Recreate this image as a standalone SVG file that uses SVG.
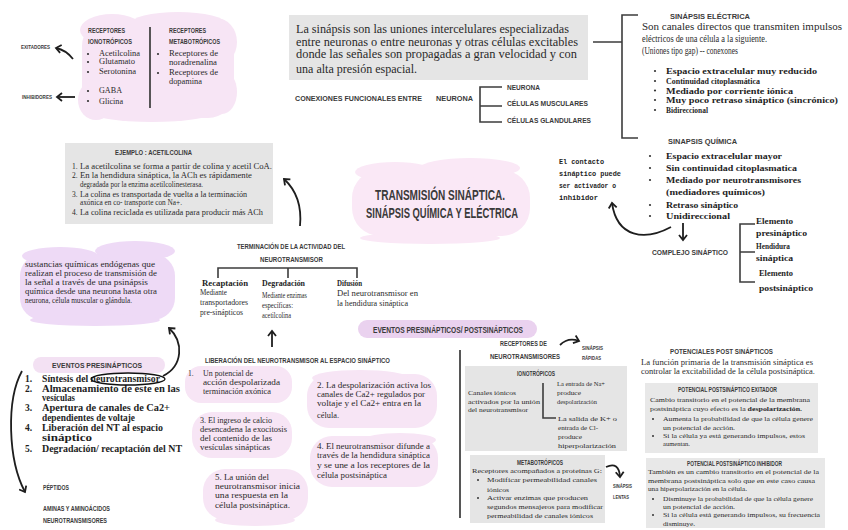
<svg xmlns="http://www.w3.org/2000/svg" width="848" height="530" viewBox="0 0 848 530">
<style>
.hd{font-family:"Liberation Sans",Arial,sans-serif;font-weight:bold;fill:#3a3a3a}
.sf{font-family:"Liberation Serif","Times New Roman",serif;fill:#2a2a2a}
.sb{font-family:"Liberation Serif","Times New Roman",serif;font-weight:bold;fill:#1e1e1e}
.mn{font-family:"Liberation Mono","Courier New",monospace;font-weight:bold;fill:#1e1e1e}
.ln{stroke:#3c3c3c;stroke-width:1.6;fill:none}
.ar{stroke:#1e1e1e;stroke-width:1.8;fill:none;marker-end:url(#ah)}
.pk{fill:#f7e5f5}
.lv{fill:#eedaf6}
.gy{fill:#e5e5e5}
.bl{fill:#333}
</style>
<defs>
<marker id="ah" markerUnits="userSpaceOnUse" markerWidth="10" markerHeight="10" refX="6" refY="5" orient="auto">
<path d="M1,1 L6,5 L1,9" stroke="#1e1e1e" stroke-width="1.8" fill="none"/>
</marker>
</defs>
<rect width="848" height="530" fill="#fff"/>

<!-- receptores -->
<g id="receptores">
<g class="pk">
<rect x="82" y="20" width="152" height="98" rx="26"/>
<ellipse cx="112" cy="30" rx="32" ry="16"/>
<ellipse cx="178" cy="24" rx="48" ry="12"/>
<ellipse cx="216" cy="42" rx="21" ry="24"/>
<ellipse cx="96" cy="100" rx="18" ry="20"/>
<ellipse cx="152" cy="112" rx="62" ry="10"/>
<ellipse cx="222" cy="92" rx="15" ry="22"/>
</g>
<text class="hd" font-size="7" x="88" y="33" textLength="37" lengthAdjust="spacingAndGlyphs">RECEPTORES</text>
<text class="hd" font-size="7" x="88" y="44" textLength="44" lengthAdjust="spacingAndGlyphs">IONOTRÓPICOS</text>
<g class="bl"><circle cx="88" cy="54" r="1.1"/><circle cx="88" cy="62" r="1.1"/><circle cx="88" cy="72" r="1.1"/><circle cx="88" cy="91" r="1.1"/><circle cx="88" cy="101" r="1.1"/><circle cx="158" cy="54" r="1.1"/><circle cx="158" cy="73" r="1.1"/></g>
<text class="sf" font-size="8" x="99" y="56" textLength="41" lengthAdjust="spacingAndGlyphs">Acetilcolina</text>
<text class="sf" font-size="8" x="99" y="64" textLength="36" lengthAdjust="spacingAndGlyphs">Glutamato</text>
<text class="sf" font-size="8" x="99" y="74" textLength="37" lengthAdjust="spacingAndGlyphs">Serotonina</text>
<text class="sf" font-size="8" x="99" y="93" textLength="23" lengthAdjust="spacingAndGlyphs">GABA</text>
<text class="sf" font-size="8" x="99" y="104" textLength="24" lengthAdjust="spacingAndGlyphs">Glicina</text>
<line x1="150" y1="27" x2="150" y2="108" stroke="#444" stroke-width="1.8"/>
<text class="hd" font-size="7" x="169" y="33" textLength="37" lengthAdjust="spacingAndGlyphs">RECEPTORES</text>
<text class="hd" font-size="7" x="169" y="44" textLength="51" lengthAdjust="spacingAndGlyphs">METABOTRÓPICOS</text>
<text class="sf" font-size="8" x="169" y="56" textLength="49" lengthAdjust="spacingAndGlyphs">Receptores de</text>
<text class="sf" font-size="8" x="169" y="65" textLength="48" lengthAdjust="spacingAndGlyphs">noradrenalina</text>
<text class="sf" font-size="8" x="169" y="75" textLength="49" lengthAdjust="spacingAndGlyphs">Receptores de</text>
<text class="sf" font-size="8" x="169" y="84" textLength="33" lengthAdjust="spacingAndGlyphs">dopamina</text>
</g>
<g id="exitadores"><text class="hd" font-size="6" x="21" y="49" textLength="29" lengthAdjust="spacingAndGlyphs">EXITADORES</text></g>
<g id="inhibidores"><text class="hd" font-size="6" x="22" y="99" textLength="30" lengthAdjust="spacingAndGlyphs">INHIBIDORES</text></g>

<!-- definicion -->
<g id="definicion">
<rect class="gy" x="289" y="15" width="299" height="65"/>
<text class="sf" font-size="11.5" x="296" y="33" textLength="273" lengthAdjust="spacingAndGlyphs">La sinápsis son las uniones intercelulares especializadas</text>
<text class="sf" font-size="11.5" x="296" y="46" textLength="282" lengthAdjust="spacingAndGlyphs">entre neuronas o entre neuronas y otras  células excitables</text>
<text class="sf" font-size="11.5" x="296" y="58" textLength="281" lengthAdjust="spacingAndGlyphs">donde las señales son propagadas a gran velocidad y con</text>
<text class="sf" font-size="11.5" x="296" y="73" textLength="121" lengthAdjust="spacingAndGlyphs">una alta presión espacial.</text>
</g>

<g id="conexiones">
<text class="hd" font-size="8" x="295" y="101" textLength="127" lengthAdjust="spacingAndGlyphs">CONEXIONES FUNCIONALES ENTRE</text>
<text class="hd" font-size="8" x="436" y="101" textLength="37" lengthAdjust="spacingAndGlyphs">NEURONA</text>
</g>
<g id="neurona"><text class="hd" font-size="8" x="507" y="90" textLength="33" lengthAdjust="spacingAndGlyphs">NEURONA</text></g>
<g id="celulas-musculares"><text class="hd" font-size="8" x="507" y="106" textLength="81" lengthAdjust="spacingAndGlyphs">CÉLULAS MUSCULARES</text></g>
<g id="celulas-glandulares"><text class="hd" font-size="8" x="507" y="123" textLength="84" lengthAdjust="spacingAndGlyphs">CÉLULAS GLANDULARES</text></g>

<!-- sinapsis electrica -->
<g id="sinapsis-electrica">
<text class="hd" font-size="8" x="670" y="19" textLength="80" lengthAdjust="spacingAndGlyphs">SINÁPSIS ELÉCTRICA</text>
<text class="sf" font-size="11" x="642" y="30" textLength="200" lengthAdjust="spacingAndGlyphs">Son canales directos que transmiten impulsos</text>
<text class="sf" font-size="11" x="642" y="42" textLength="125" lengthAdjust="spacingAndGlyphs">eléctricos de una célula a la siguiente.</text>
<text class="sf" font-size="11" x="642" y="54" textLength="96" lengthAdjust="spacingAndGlyphs">(Uniones tipo gap) -- conexones</text>
<g class="bl"><circle cx="655" cy="71" r="1.1"/><circle cx="655" cy="81" r="1.1"/><circle cx="655" cy="90.5" r="1.1"/><circle cx="655" cy="100" r="1.1"/><circle cx="655" cy="110" r="1.1"/></g>
<text class="sb" font-size="8.5" x="666" y="74" textLength="151" lengthAdjust="spacingAndGlyphs">Espacio extracelular muy reducido</text>
<text class="sb" font-size="8.5" x="666" y="84" textLength="94" lengthAdjust="spacingAndGlyphs">Continuidad citoplasmática</text>
<text class="sb" font-size="8.5" x="666" y="93.5" textLength="127" lengthAdjust="spacingAndGlyphs">Mediado por corriente iónica</text>
<text class="sb" font-size="8.5" x="666" y="103" textLength="172" lengthAdjust="spacingAndGlyphs">Muy poco retraso sináptico (sincrónico)</text>
<text class="sb" font-size="8.5" x="666" y="113" textLength="42" lengthAdjust="spacingAndGlyphs">Bidireccional</text>
</g>

<g id="sinapsis-quimica">
<text class="hd" font-size="8" x="668" y="144" textLength="69" lengthAdjust="spacingAndGlyphs">SINAPSIS QUÍMICA</text>
<g class="bl"><circle cx="650" cy="156" r="1.1"/><circle cx="650" cy="168" r="1.1"/><circle cx="650" cy="180" r="1.1"/><circle cx="650" cy="205" r="1.1"/><circle cx="650" cy="216" r="1.1"/></g>
<text class="sb" font-size="9" x="666" y="159" textLength="116" lengthAdjust="spacingAndGlyphs">Espacio extracelular mayor</text>
<text class="sb" font-size="9" x="666" y="171" textLength="131" lengthAdjust="spacingAndGlyphs">Sin continuidad citoplasmatica</text>
<text class="sb" font-size="9" x="666" y="183" textLength="135" lengthAdjust="spacingAndGlyphs">Mediado por neurotransmisores</text>
<text class="sb" font-size="9" x="666" y="195" textLength="99" lengthAdjust="spacingAndGlyphs">(mediadores químicos)</text>
<text class="sb" font-size="9" x="666" y="208" textLength="72" lengthAdjust="spacingAndGlyphs">Retraso sináptico</text>
<text class="sb" font-size="9" x="666" y="219" textLength="64" lengthAdjust="spacingAndGlyphs">Unidireccional</text>
</g>

<g id="contacto">
<text class="mn" font-size="7" x="559" y="164" textLength="45" lengthAdjust="spacingAndGlyphs">El contacto</text>
<text class="mn" font-size="7" x="559" y="176" textLength="62" lengthAdjust="spacingAndGlyphs">sináptico puede</text>
<text class="mn" font-size="7" x="559" y="187.5" textLength="57" lengthAdjust="spacingAndGlyphs">ser activador o</text>
<text class="mn" font-size="7" x="559" y="200" textLength="39" lengthAdjust="spacingAndGlyphs">inhibidor</text>
</g>

<g id="complejo">
<text class="hd" font-size="8" x="652" y="255" textLength="76" lengthAdjust="spacingAndGlyphs">COMPLEJO SINÁPTICO</text>
</g>
<g id="elemento-pre">
<text class="sb" font-size="8.5" x="756" y="224" textLength="37" lengthAdjust="spacingAndGlyphs">Elemento</text>
<text class="sb" font-size="8.5" x="756" y="236" textLength="51" lengthAdjust="spacingAndGlyphs">presináptico</text>
</g>
<g id="hendidura">
<text class="sb" font-size="8.5" x="756" y="249" textLength="34" lengthAdjust="spacingAndGlyphs">Hendidura</text>
<text class="sb" font-size="8.5" x="756" y="261" textLength="37" lengthAdjust="spacingAndGlyphs">sináptica</text>
</g>
<g id="elemento-post">
<text class="sb" font-size="8.5" x="759" y="276" textLength="34" lengthAdjust="spacingAndGlyphs">Elemento</text>
<text class="sb" font-size="8.5" x="759" y="291" textLength="54" lengthAdjust="spacingAndGlyphs">postsináptico</text>
</g>

<!-- titulo -->
<g id="titulo">
<g fill="#fae8f6">
<rect x="352" y="170" width="178" height="66" rx="28"/>
<ellipse cx="395" cy="172" rx="40" ry="10"/>
<ellipse cx="470" cy="168" rx="50" ry="10"/>
<ellipse cx="430" cy="238" rx="70" ry="6"/>
</g>
<text class="hd" font-size="15" x="375" y="200" textLength="130" lengthAdjust="spacingAndGlyphs" fill="#404040">TRANSMISIÓN SINÁPTICA.</text>
<text class="hd" font-size="15" x="366" y="218" textLength="152" lengthAdjust="spacingAndGlyphs" fill="#404040">SINÁPSIS QUÍMICA Y ELÉCTRICA</text>
</g>

<!-- ejemplo -->
<g id="ejemplo">
<rect class="gy" x="65" y="143" width="208" height="81"/>
<text class="hd" font-size="8" x="115" y="155" textLength="77" lengthAdjust="spacingAndGlyphs">EJEMPLO : ACETILCOLINA</text>
<g class="sf" font-size="7.5">
<text x="72" y="169">1.</text><text x="80" y="169" textLength="192" lengthAdjust="spacingAndGlyphs">La acetilcolina se forma a partir de colina y acetil CoA.</text>
<text x="72" y="178">2.</text><text x="80" y="178" textLength="172" lengthAdjust="spacingAndGlyphs">En la hendidura sináptica, la ACh es rápidamente</text>
<text x="80" y="187" textLength="123" lengthAdjust="spacingAndGlyphs">degradada por la enzima acetilcolinesterasa.</text>
<text x="72" y="197">3.</text><text x="80" y="197" textLength="167" lengthAdjust="spacingAndGlyphs">La colina es transportada de vuelta a la terminación</text>
<text x="80" y="205" textLength="102" lengthAdjust="spacingAndGlyphs">axónica en co- transporte con Na+.</text>
<text x="72" y="215">4.</text><text x="80" y="215" textLength="183" lengthAdjust="spacingAndGlyphs">La colina reciclada es utilizada para producir más ACh</text>
</g>
</g>

<!-- terminacion -->
<g id="terminacion">
<text class="hd" font-size="7" x="237" y="249" textLength="108" lengthAdjust="spacingAndGlyphs">TERMINACIÓN DE LA ACTIVIDAD DEL</text>
<text class="hd" font-size="7" x="260" y="262" textLength="63" lengthAdjust="spacingAndGlyphs">NEUROTRANSMISOR</text>
</g>
<g id="recaptacion">
<text class="sb" font-size="8" x="202" y="286" textLength="46" lengthAdjust="spacingAndGlyphs">Recaptación</text>
<text class="sf" font-size="7.5" x="200" y="295" textLength="27" lengthAdjust="spacingAndGlyphs">Mediante</text>
<text class="sf" font-size="7.5" x="200" y="305" textLength="48" lengthAdjust="spacingAndGlyphs">transportadores</text>
<text class="sf" font-size="7.5" x="200" y="315" textLength="43" lengthAdjust="spacingAndGlyphs">pre-sinápticos</text>
</g>
<g id="degradacion">
<text class="sb" font-size="8" x="262" y="286" textLength="43" lengthAdjust="spacingAndGlyphs">Degradación</text>
<text class="sf" font-size="7.5" x="262" y="298" textLength="45" lengthAdjust="spacingAndGlyphs">Mediante enzimas</text>
<text class="sf" font-size="7.5" x="262" y="308" textLength="31" lengthAdjust="spacingAndGlyphs">específicas:</text>
<text class="sf" font-size="7.5" x="262" y="318" textLength="29" lengthAdjust="spacingAndGlyphs">acetilcolina</text>
</g>
<g id="difusion">
<text class="sb" font-size="8" x="337" y="286" textLength="25" lengthAdjust="spacingAndGlyphs">Difusión</text>
<text class="sf" font-size="7.5" x="337" y="296" textLength="81" lengthAdjust="spacingAndGlyphs">Del neurotransmisor en</text>
<text class="sf" font-size="7.5" x="337" y="306" textLength="71" lengthAdjust="spacingAndGlyphs">la hendidura sináptica</text>
</g>

<!-- sustancias -->
<g id="sustancias">
<g class="lv">
<rect x="20" y="254" width="155" height="66" rx="22"/>
<ellipse cx="60" cy="256" rx="38" ry="9"/>
<ellipse cx="135" cy="251" rx="40" ry="10"/>
<ellipse cx="95" cy="320" rx="65" ry="6"/>
</g>
<g class="sf" font-size="7.5">
<text x="25" y="267" textLength="130" lengthAdjust="spacingAndGlyphs">sustancias químicas endógenas que</text>
<text x="25" y="276" textLength="132" lengthAdjust="spacingAndGlyphs">realizan el proceso de transmisión de</text>
<text x="25" y="285" textLength="123" lengthAdjust="spacingAndGlyphs">la señal a través de una psinápsis</text>
<text x="25" y="294" textLength="132" lengthAdjust="spacingAndGlyphs">química desde una neurona hasta otra</text>
<text x="25" y="303" textLength="107" lengthAdjust="spacingAndGlyphs">neurona, célula muscular o glándula.</text>
</g>
</g>

<!-- eventos presinapticos -->
<g id="eventos-pre">
<rect x="33" y="357" width="132" height="16" rx="8" fill="#f3e1f3"/>
<text class="hd" font-size="8" x="52" y="368" textLength="90" lengthAdjust="spacingAndGlyphs">EVENTOS PRESINÁPTICOS</text>
<g class="sb" font-size="9.5">
<text x="25" y="382">1.</text><text x="42" y="382" textLength="118" lengthAdjust="spacingAndGlyphs">Síntesis del neurotransmisor</text>
<text x="25" y="392">2.</text><text x="42" y="392" textLength="138" lengthAdjust="spacingAndGlyphs">Almacenamiento de este en las</text>
<text x="42" y="401" textLength="33" lengthAdjust="spacingAndGlyphs">vesículas</text>
<text x="25" y="411">3.</text><text x="42" y="411" textLength="128" lengthAdjust="spacingAndGlyphs">Apertura de canales de Ca2+</text>
<text x="42" y="421" textLength="93" lengthAdjust="spacingAndGlyphs">dependientes de voltaje</text>
<text x="25" y="431">4.</text><text x="42" y="431" textLength="121" lengthAdjust="spacingAndGlyphs">Liberación del NT al espacio</text>
<text x="42" y="441" textLength="50" lengthAdjust="spacingAndGlyphs">sináptico</text>
<text x="25" y="452">5.</text><text x="42" y="452" textLength="140" lengthAdjust="spacingAndGlyphs">Degradación/ recaptación del NT</text>
</g>
<ellipse cx="128" cy="379" rx="37" ry="6" fill="none" stroke="#111" stroke-width="1.3"/>
</g>
<g id="peptidos"><text class="hd" font-size="6.5" x="43" y="490" textLength="26" lengthAdjust="spacingAndGlyphs">PÉPTIDOS</text></g>
<g id="aminas">
<text class="hd" font-size="6.5" x="43" y="511" textLength="67" lengthAdjust="spacingAndGlyphs">AMINAS Y AMINOÁCIDOS</text>
<text class="hd" font-size="6.5" x="43" y="523" textLength="64" lengthAdjust="spacingAndGlyphs">NEUROTRANSMISORES</text>
</g>

<!-- liberacion -->
<g id="liberacion">
<text class="hd" font-size="7.5" x="205" y="363" textLength="185" lengthAdjust="spacingAndGlyphs">LIBERACIÓN DEL NEUROTRANSMISOR AL ESPACIO SINÁPTICO</text>
</g>
<g id="paso1">
<rect class="pk" x="185" y="366" width="107" height="37" rx="16"/>
<g class="sf" font-size="7.5">
<text x="188" y="376">1.</text>
<text x="203" y="376" textLength="50" lengthAdjust="spacingAndGlyphs">Un potencial de</text>
<text x="203" y="385" textLength="77" lengthAdjust="spacingAndGlyphs">acción despolarizada</text>
<text x="203" y="394" textLength="68" lengthAdjust="spacingAndGlyphs">terminación axónica</text>
</g>
</g>
<g id="paso2">
<g class="pk"><rect x="307" y="374" width="130" height="54" rx="22"/><ellipse cx="360" cy="378" rx="48" ry="8"/></g>
<g class="sf" font-size="7.5">
<text x="317" y="388" textLength="114" lengthAdjust="spacingAndGlyphs">2. La despolarización activa los</text>
<text x="317" y="397" textLength="108" lengthAdjust="spacingAndGlyphs">canales de Ca2+ regulados por</text>
<text x="317" y="406" textLength="104" lengthAdjust="spacingAndGlyphs">voltaje y el Ca2+ entra en la</text>
<text x="317" y="418" textLength="22" lengthAdjust="spacingAndGlyphs">célula.</text>
</g>
</g>
<g id="paso3">
<rect class="pk" x="192" y="412" width="100" height="46" rx="20"/>
<g class="sf" font-size="7.5">
<text x="200" y="423" textLength="72" lengthAdjust="spacingAndGlyphs">3. El ingreso de calcio</text>
<text x="200" y="432" textLength="87" lengthAdjust="spacingAndGlyphs">desencadena la exocitosis</text>
<text x="200" y="441" textLength="72" lengthAdjust="spacingAndGlyphs">del contenido de las</text>
<text x="200" y="450" textLength="70" lengthAdjust="spacingAndGlyphs">vesículas sinápticas</text>
</g>
</g>
<g id="paso4">
<g class="pk"><rect x="310" y="436" width="128" height="51" rx="22"/><ellipse cx="400" cy="440" rx="36" ry="7"/></g>
<g class="sf" font-size="7.5">
<text x="317" y="449" textLength="113" lengthAdjust="spacingAndGlyphs">4. El neurotransmisor difunde a</text>
<text x="317" y="458" textLength="113" lengthAdjust="spacingAndGlyphs">través de la hendidura sináptica</text>
<text x="317" y="468" textLength="113" lengthAdjust="spacingAndGlyphs">y se une a los receptores de la</text>
<text x="317" y="478" textLength="70" lengthAdjust="spacingAndGlyphs">célula postsináptica</text>
</g>
</g>
<g id="paso5">
<g class="pk"><rect x="203" y="469" width="105" height="51" rx="22"/><ellipse cx="255" cy="520" rx="40" ry="6"/></g>
<g class="sf" font-size="7.5">
<text x="215" y="480" textLength="54" lengthAdjust="spacingAndGlyphs">5. La unión del</text>
<text x="215" y="489" textLength="85" lengthAdjust="spacingAndGlyphs">neurotransmisor inicia</text>
<text x="215" y="498" textLength="73" lengthAdjust="spacingAndGlyphs">una respuesta  en la</text>
<text x="215" y="508" textLength="75" lengthAdjust="spacingAndGlyphs">célula postsináptica.</text>
</g>
</g>

<!-- eventos pre/post -->
<g id="eventos-prepost">
<rect x="358" y="320" width="179" height="18" rx="9" fill="#ead2ef"/>
<text class="hd" font-size="8.5" x="373" y="333" textLength="150" lengthAdjust="spacingAndGlyphs">EVENTOS PRESINÁPTICOS/ POSTSINÁPTICOS</text>
</g>
<line x1="460" y1="350" x2="460" y2="518" stroke="#444" stroke-width="1.8"/>

<g id="receptores-nt">
<text class="hd" font-size="7.5" x="500" y="346" textLength="47" lengthAdjust="spacingAndGlyphs">RECEPTORES DE</text>
<text class="hd" font-size="7.5" x="490" y="359" textLength="70" lengthAdjust="spacingAndGlyphs">NEUROTRANSMISORES</text>
</g>
<g id="sinapsis-rapidas">
<text class="hd" font-size="5.5" x="582" y="350" textLength="21" lengthAdjust="spacingAndGlyphs">SINÁPSIS</text>
<text class="hd" font-size="5.5" x="582" y="360" textLength="19" lengthAdjust="spacingAndGlyphs">RÁPIDAS</text>
</g>

<g id="ionotropicos">
<rect class="gy" x="465" y="366" width="162" height="85"/>
<text class="hd" font-size="6.5" x="517" y="376" textLength="38" lengthAdjust="spacingAndGlyphs">IONOTRÓPICOS</text>
<g class="sf" font-size="6.8">
<text x="468" y="395" textLength="48" lengthAdjust="spacingAndGlyphs">Canales iónicos</text>
<text x="468" y="404" textLength="72" lengthAdjust="spacingAndGlyphs">activados por la unión</text>
<text x="468" y="412" textLength="60" lengthAdjust="spacingAndGlyphs">del neurotransmisor</text>
<text x="557" y="386" textLength="48" lengthAdjust="spacingAndGlyphs">La entrada de Na+</text>
<text x="557" y="395" textLength="24" lengthAdjust="spacingAndGlyphs">produce</text>
<text x="557" y="404" textLength="40" lengthAdjust="spacingAndGlyphs">despolarización</text>
<text x="558" y="421" textLength="59" lengthAdjust="spacingAndGlyphs">La salida de K+ o</text>
<text x="558" y="430" textLength="40" lengthAdjust="spacingAndGlyphs">entrada de Cl-</text>
<text x="558" y="439" textLength="24" lengthAdjust="spacingAndGlyphs">produce</text>
<text x="558" y="448" textLength="58" lengthAdjust="spacingAndGlyphs">hiperpolarización</text>
</g>
</g>

<g id="metabotropicos">
<rect class="gy" x="470" y="455" width="135" height="68"/>
<text class="hd" font-size="6.5" x="517" y="465" textLength="46" lengthAdjust="spacingAndGlyphs">METABOTRÓPICOS</text>
<g class="bl"><circle cx="478" cy="480" r="1"/><circle cx="478" cy="498" r="1"/></g>
<g class="sf" font-size="6.8">
<text x="472" y="473" textLength="130" lengthAdjust="spacingAndGlyphs">Receptores acompañados a proteínas G:</text>
<text x="487" y="482" textLength="110" lengthAdjust="spacingAndGlyphs">Modificar permeabilidad canales</text>
<text x="487" y="492" textLength="22" lengthAdjust="spacingAndGlyphs">iónicos</text>
<text x="487" y="500" textLength="101" lengthAdjust="spacingAndGlyphs">Activar enzimas que producen</text>
<text x="487" y="509" textLength="116" lengthAdjust="spacingAndGlyphs">segundos mensajeros para modificar</text>
<text x="487" y="518" textLength="106" lengthAdjust="spacingAndGlyphs">permeabilidad de canales iónicos</text>
</g>
</g>
<g id="sinapsis-lentas">
<text class="hd" font-size="5.5" x="613" y="488" textLength="19" lengthAdjust="spacingAndGlyphs">SINÁPSIS</text>
<text class="hd" font-size="5.5" x="613" y="499" textLength="16" lengthAdjust="spacingAndGlyphs">LENTAS</text>
</g>

<!-- potenciales -->
<g id="potenciales">
<text class="hd" font-size="7.5" x="670" y="354" textLength="103" lengthAdjust="spacingAndGlyphs">POTENCIALES POST SINÁPTICOS</text>
<text class="sf" font-size="7.5" x="641" y="365" textLength="172" lengthAdjust="spacingAndGlyphs">La función primaria de la transmisión sináptica es</text>
<text class="sf" font-size="7.5" x="641" y="374" textLength="174" lengthAdjust="spacingAndGlyphs">controlar la excitabilidad de la célula postsináptica.</text>
</g>
<g id="exitador">
<rect fill="#e8e8e8" x="645" y="383" width="173" height="70"/>
<text class="hd" font-size="6.5" x="678" y="392" textLength="99" lengthAdjust="spacingAndGlyphs">POTENCIAL POSTSINÁPTICO EXITADOR</text>
<g class="bl"><circle cx="653" cy="419" r="1"/><circle cx="653" cy="436" r="1"/></g>
<g class="sf" font-size="6.8">
<text x="650" y="402" textLength="160" lengthAdjust="spacingAndGlyphs">Cambio transitorio en el potencial  de la membrana</text>
<text x="650" y="411" textLength="152" lengthAdjust="spacingAndGlyphs">postsináptica cuyo efecto es la <tspan font-weight="bold">despolarización.</tspan></text>
<text x="663" y="421" textLength="150" lengthAdjust="spacingAndGlyphs">Aumenta la probabilidad de que la célula genere</text>
<text x="663" y="430" textLength="72" lengthAdjust="spacingAndGlyphs">un potencial de acción.</text>
<text x="663" y="438" textLength="142" lengthAdjust="spacingAndGlyphs">Si la célula ya está generando impulsos, estos</text>
<text x="663" y="446" textLength="27" lengthAdjust="spacingAndGlyphs">aumentan.</text>
</g>
</g>
<g id="inhibidor">
<rect fill="#e8e8e8" x="646" y="458" width="179" height="70"/>
<text class="hd" font-size="6.5" x="687" y="466" textLength="95" lengthAdjust="spacingAndGlyphs">POTENCIAL POSTSINÁPTICO INHIBIDOR</text>
<g class="bl"><circle cx="653" cy="499" r="1"/><circle cx="653" cy="515" r="1"/></g>
<g class="sf" font-size="6.8">
<text x="648" y="474" textLength="171" lengthAdjust="spacingAndGlyphs">También es un cambio transitorio en el potencial de la</text>
<text x="648" y="483" textLength="167" lengthAdjust="spacingAndGlyphs">membrana postsináptica solo que en este caso causa</text>
<text x="648" y="491" textLength="99" lengthAdjust="spacingAndGlyphs">una hiperpolarización en la célula.</text>
<text x="663" y="501" textLength="150" lengthAdjust="spacingAndGlyphs">Disminuye la probabilidad de que la célula genere</text>
<text x="663" y="509" textLength="72" lengthAdjust="spacingAndGlyphs">un potencial de acción.</text>
<text x="663" y="517" textLength="157" lengthAdjust="spacingAndGlyphs">Si la célula está generando impulsos, su frecuencia</text>
<text x="663" y="526" textLength="32" lengthAdjust="spacingAndGlyphs">disminuye.</text>
</g>
</g>

<!-- connectors -->
<g id="connectors">
<path class="ar" d="M73 59 Q66 50 56 48"/>
<path class="ar" d="M75 97 L57 97"/>
<path class="ln" d="M593 42 L622 42 M638 15 L622 15 L622 138 L638 138"/>
<path class="ln" d="M502 87 L480 87 L480 122 L502 122 M480 106 L502 106"/>
<path class="ln" d="M755 224 L740 224 L740 282 L755 282 M740 252 L755 252"/>
<path class="ln" d="M218 278 L218 268 L357 268 L357 278 M288 268 L288 278"/>
<path class="ln" d="M543 383 L543 418 L556 418"/>
<path class="ar" d="M683 223 L683 240"/>
<path class="ar" d="M671 227 C645 241 617 238 612 203"/>
<path class="ar" d="M300 226 C302 205 296 190 284 179"/>
<path class="ar" d="M272 347 L272 331"/>
<path class="ar" d="M163 376 C183 366 184 342 169 328"/>
<path class="ar" d="M22 371 C6 400 8 460 25 492"/>
<path class="ar" d="M560 345 Q568 337 579 341"/>
<path class="ar" d="M606 467 Q619 461 620 477"/>
</g>
</svg>
